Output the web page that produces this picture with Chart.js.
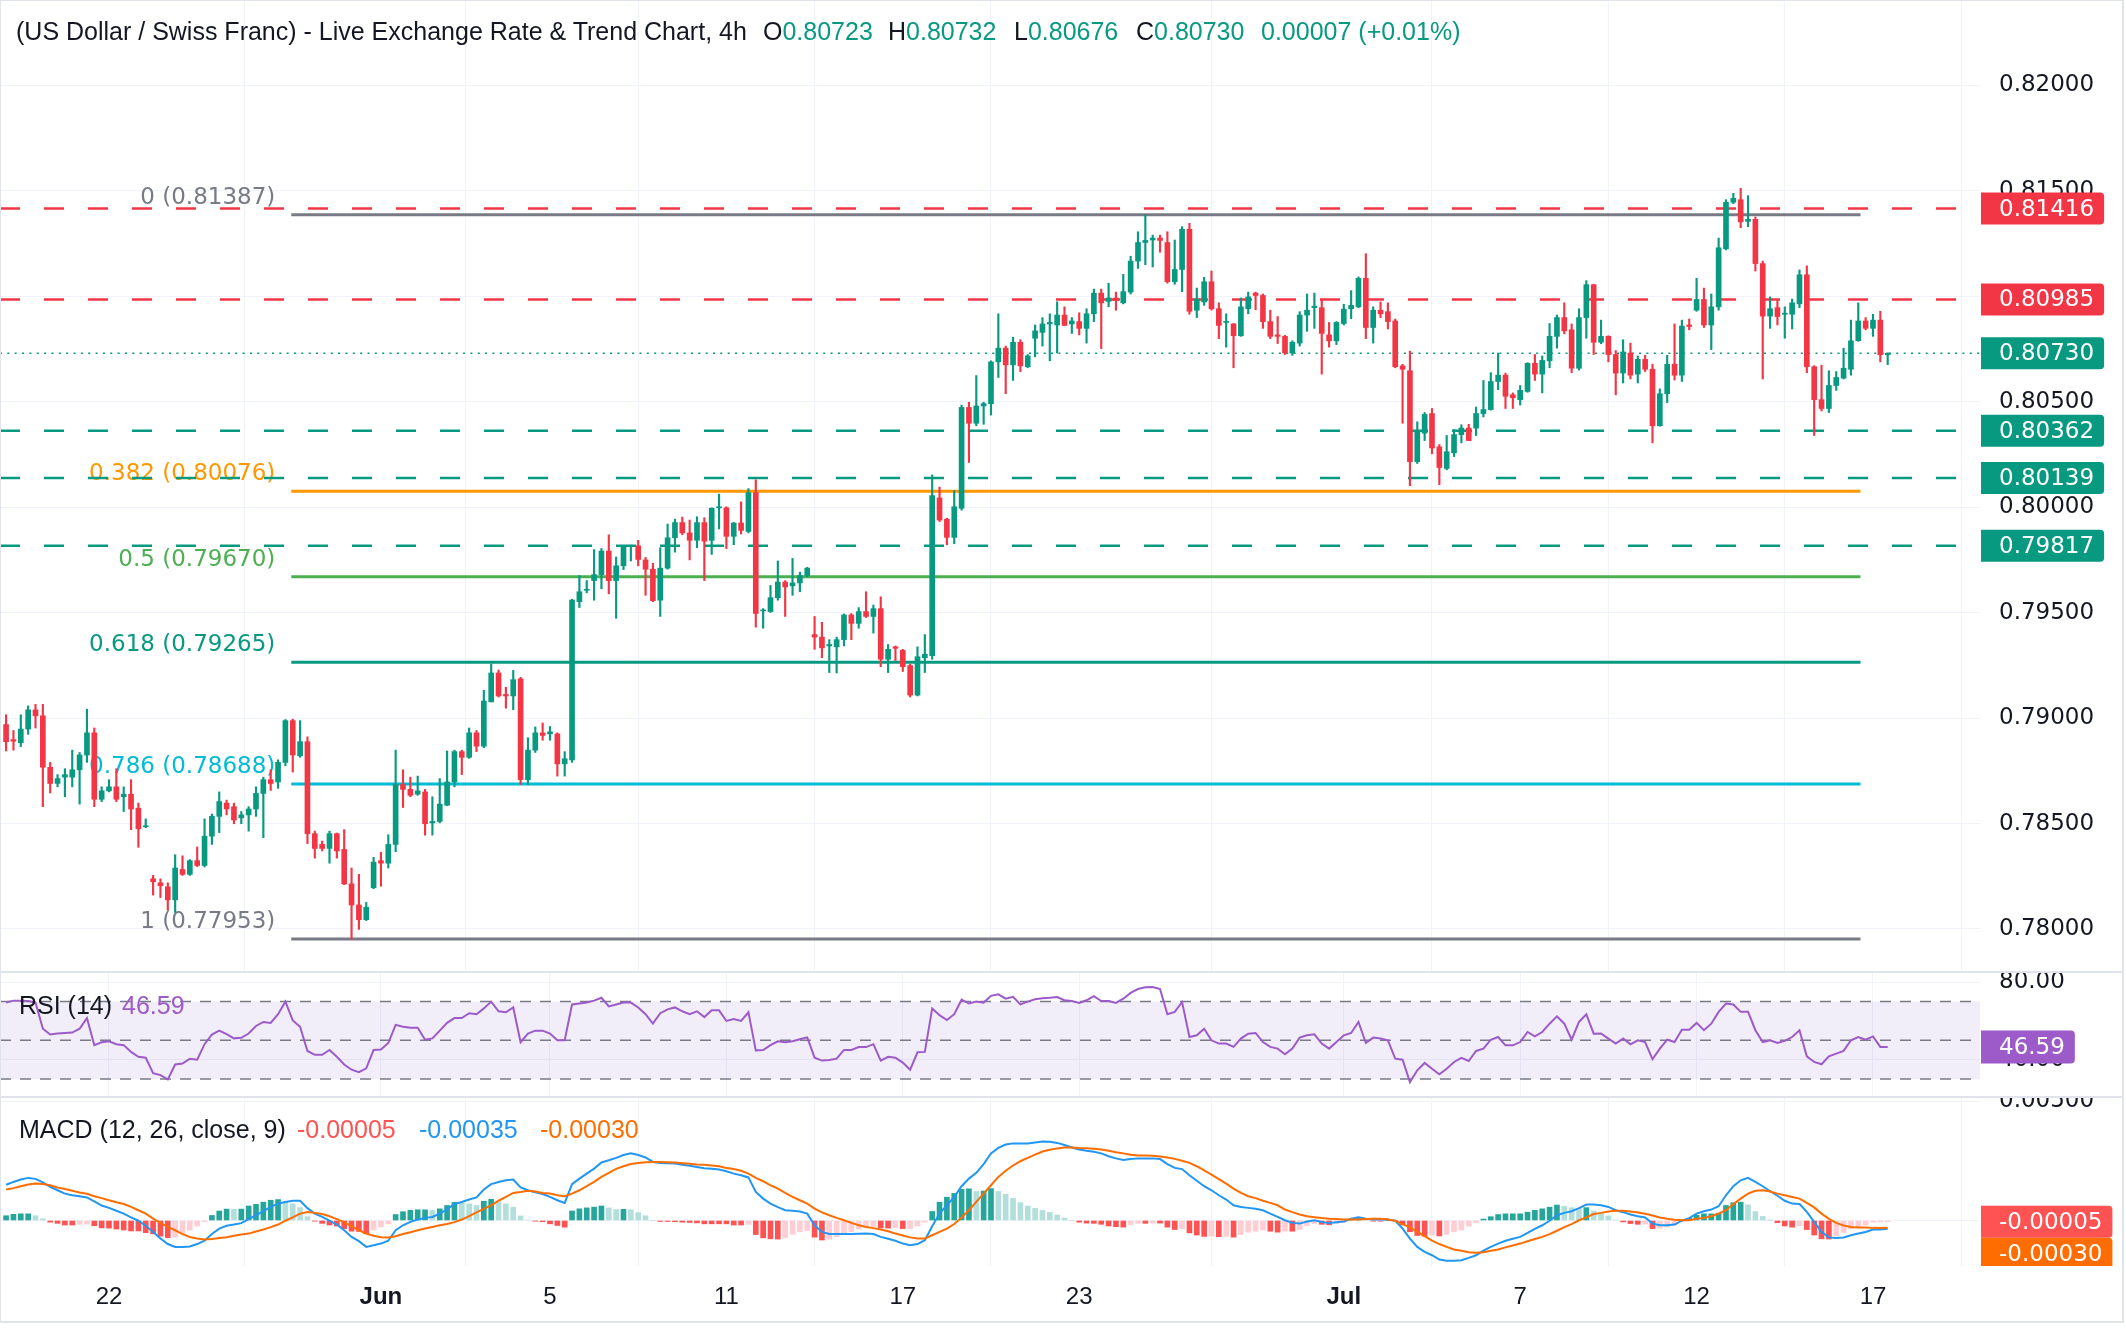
<!DOCTYPE html>
<html>
<head>
<meta charset="utf-8">
<title>USD/CHF 4h</title>
<script src="https://cdn.jsdelivr.net/npm/chart.js@4.4.1/dist/chart.umd.min.js"></script>
<style>
  html, body { margin:0; padding:0; background:#ffffff; }
  #wrap { position:relative; width:2126px; height:1344px; overflow:hidden; background:#fff; }
  #wrap canvas { position:absolute; left:0; }
  .lg { position:absolute; font-family:"Liberation Sans", Arial, sans-serif; font-size:25px; line-height:30px; color:#131722; white-space:pre; }
  .rule { position:absolute; background:#e0e3eb; }
</style>
</head>
<body>
<div id="wrap">
  <canvas id="cMain" width="2126" height="971" style="top:0px;width:2126px;height:971px"></canvas>
  <canvas id="cRsi" width="2126" height="123" style="top:973px;width:2126px;height:123px"></canvas>
  <canvas id="cMacd" width="2126" height="246" style="top:1098px;width:2126px;height:246px"></canvas>
  <div class="rule" style="left:0;top:971px;width:2124px;height:2px"></div>
  <div class="rule" style="left:0;top:1096px;width:2124px;height:2px"></div>
  <div class="rule" style="left:0;top:0;width:2124px;height:1px"></div>
  <div class="rule" style="left:0;top:0;width:1px;height:1323px"></div>
  <div class="rule" style="left:2122px;top:0;width:2px;height:1323px"></div>
  <div class="rule" style="left:0;top:1321px;width:2124px;height:2px"></div>
</div>
<script>
// ===================== DATA =====================
const chartTitle = "(US Dollar / Swiss Franc) - Live Exchange Rate & Trend Chart, 4h";

const xTickIndex  = [14, 51, 74, 98, 122, 146, 182, 206, 230, 254];
const xTickLabels = ["22", "Jun", "5", "11", "17", "23", "Jul", "7", "12", "17"];

const priceTicks = [0.78, 0.785, 0.79, 0.795, 0.80, 0.805, 0.81, 0.815, 0.82];
const rsiTicks   = [80, 40];
const macdTicks  = [0.005, 0];

const opens = [
0.78969,0.78898,0.78883,0.78948,0.79039,0.79011,0.78767,0.78690,0.78720,0.78720,
0.78755,0.78825,0.78930,0.78615,0.78655,0.78674,0.78627,0.78639,0.78573,0.78485,
0.78238,0.78219,0.78200,0.78138,0.78282,0.78259,0.78324,0.78301,0.78440,0.78534,
0.78597,0.78580,0.78527,0.78541,0.78569,0.78643,0.78708,0.78697,0.78790,0.78988,
0.78821,0.78888,0.78452,0.78401,0.78382,0.78452,0.78377,0.78214,0.78114,0.78044,
0.78196,0.78324,0.78312,0.78401,0.78685,0.78662,0.78639,0.78650,0.78503,0.78510,
0.78587,0.78697,0.78841,0.78814,0.78930,0.78867,0.79077,0.79214,0.79112,0.79105,
0.79186,0.78708,0.78848,0.78930,0.78925,0.78925,0.78783,0.78802,0.79552,0.79606,
0.79652,0.79680,0.79792,0.79652,0.79722,0.79813,0.79817,0.79750,0.79706,0.79559,
0.79711,0.79855,0.79927,0.79878,0.79843,0.79927,0.79843,0.79997,0.79997,0.79862,
0.79925,0.79885,0.80069,0.79508,0.79505,0.79571,0.79645,0.79627,0.79641,0.79676,
0.79396,0.79384,0.79342,0.79338,0.79372,0.79489,0.79449,0.79505,0.79482,0.79519,
0.79279,0.79338,0.79321,0.79249,0.79109,0.79286,0.79296,0.80044,0.79943,0.79857,
0.79995,0.80473,0.80398,0.80480,0.80491,0.80689,0.80754,0.80675,0.80782,0.80666,
0.80801,0.80829,0.80869,0.80864,0.80911,0.80869,0.80880,0.80848,0.80917,0.81015,
0.80976,0.80992,0.80969,0.81020,0.81167,0.81255,0.81267,0.81276,0.81255,0.81069,
0.81127,0.81318,0.80934,0.80973,0.81069,0.80941,0.80876,0.80869,0.80813,0.80941,
0.81015,0.81004,0.80880,0.80817,0.80810,0.80731,0.80778,0.80911,0.80946,0.80946,
0.80817,0.80789,0.80871,0.80941,0.80950,0.81085,0.80852,0.80934,0.80927,0.80883,
0.80670,0.80647,0.80216,0.80351,0.80444,0.80286,0.80184,0.80258,0.80344,0.80375,
0.80375,0.80444,0.80463,0.80596,0.80626,0.80533,0.80510,0.80549,0.80682,0.80631,
0.80694,0.80810,0.80899,0.80841,0.80659,0.80899,0.81055,0.80782,0.80810,0.80724,
0.80636,0.80731,0.80631,0.80701,0.80654,0.80386,0.80538,0.80678,0.80626,0.80864,
0.80934,0.80985,0.80864,0.80950,0.81225,0.81446,0.81458,0.81355,0.81365,0.81155,
0.80906,0.80946,0.80915,0.80915,0.80964,0.81102,0.80666,0.80510,0.80468,0.80577,
0.80612,0.80654,0.80789,0.80883,0.80848,0.80887,0.80723];

const highs = [
0.79016,0.78941,0.79016,0.79058,0.79065,0.79065,0.78790,0.78732,0.78760,0.78848,
0.78837,0.79042,0.78953,0.78674,0.78708,0.78760,0.78674,0.78708,0.78597,0.78522,
0.78254,0.78238,0.78219,0.78352,0.78347,0.78329,0.78389,0.78522,0.78545,0.78650,
0.78611,0.78597,0.78557,0.78580,0.78674,0.78720,0.78755,0.78802,0.78993,0.78995,
0.78988,0.78911,0.78464,0.78417,0.78464,0.78455,0.78471,0.78289,0.78259,0.78126,
0.78340,0.78364,0.78447,0.78848,0.78755,0.78720,0.78725,0.78662,0.78627,0.78713,
0.78844,0.78848,0.78848,0.78953,0.78941,0.79132,0.79256,0.79228,0.79146,0.79226,
0.79193,0.78907,0.78958,0.78977,0.78960,0.78930,0.78841,0.79563,0.79676,0.79652,
0.79799,0.79804,0.79869,0.79764,0.79815,0.79820,0.79843,0.79762,0.79734,0.79808,
0.79920,0.79943,0.79953,0.79939,0.79955,0.79950,0.79997,0.80062,0.80002,0.79927,
0.80025,0.80088,0.80130,0.79519,0.79629,0.79745,0.79652,0.79757,0.79692,0.79715,
0.79482,0.79454,0.79372,0.79384,0.79494,0.79496,0.79524,0.79599,0.79536,0.79575,
0.79349,0.79342,0.79326,0.79256,0.79338,0.79396,0.80153,0.80095,0.79948,0.80079,
0.80484,0.80498,0.80624,0.80498,0.80694,0.80917,0.80764,0.80806,0.80794,0.80724,
0.80864,0.80899,0.80917,0.80974,0.80950,0.80899,0.80922,0.80941,0.81034,0.81034,
0.81062,0.81020,0.81104,0.81190,0.81306,0.81387,0.81290,0.81290,0.81306,0.81267,
0.81330,0.81346,0.81039,0.81090,0.81120,0.80969,0.80917,0.80871,0.80992,0.81020,
0.81020,0.81011,0.80934,0.80904,0.80815,0.80789,0.80927,0.81011,0.81015,0.80987,
0.80876,0.80880,0.80962,0.81027,0.81092,0.81202,0.80950,0.80973,0.80969,0.80892,
0.80678,0.80740,0.80405,0.80449,0.80468,0.80297,0.80340,0.80368,0.80391,0.80393,
0.80475,0.80601,0.80638,0.80731,0.80636,0.80542,0.80577,0.80685,0.80724,0.80717,
0.80871,0.80911,0.80969,0.80869,0.80941,0.81074,0.81057,0.80887,0.80813,0.80743,
0.80794,0.80778,0.80717,0.80720,0.80678,0.80561,0.80720,0.80869,0.80887,0.80892,
0.81085,0.81039,0.81011,0.81276,0.81458,0.81488,0.81512,0.81477,0.81376,0.81167,
0.80997,0.80980,0.80950,0.80987,0.81125,0.81144,0.80671,0.80673,0.80647,0.80643,
0.80754,0.80887,0.80969,0.80899,0.80915,0.80929,0.80732];

const lows = [
0.78844,0.78848,0.78865,0.78923,0.78953,0.78580,0.78645,0.78674,0.78627,0.78674,
0.78592,0.78790,0.78580,0.78604,0.78650,0.78604,0.78557,0.78471,0.78387,0.78480,
0.78161,0.78149,0.78091,0.78079,0.78254,0.78254,0.78296,0.78294,0.78401,0.78457,
0.78541,0.78499,0.78499,0.78464,0.78534,0.78433,0.78657,0.78667,0.78774,0.78744,
0.78814,0.78405,0.78336,0.78370,0.78312,0.78336,0.78210,0.77953,0.77998,0.78040,
0.78191,0.78203,0.78289,0.78366,0.78576,0.78627,0.78634,0.78445,0.78445,0.78503,
0.78585,0.78674,0.78732,0.78809,0.78841,0.78860,0.79077,0.79100,0.79047,0.79040,
0.78685,0.78685,0.78837,0.78895,0.78895,0.78725,0.78725,0.78790,0.79524,0.79594,
0.79559,0.79613,0.79589,0.79473,0.79704,0.79745,0.79722,0.79582,0.79552,0.79482,
0.79706,0.79787,0.79869,0.79750,0.79808,0.79652,0.79776,0.79897,0.79804,0.79822,
0.79873,0.79878,0.79431,0.79426,0.79501,0.79559,0.79482,0.79582,0.79599,0.79669,
0.79326,0.79286,0.79216,0.79214,0.79342,0.79372,0.79426,0.79477,0.79403,0.79244,
0.79216,0.79273,0.79221,0.79100,0.79105,0.79216,0.79279,0.79932,0.79822,0.79827,
0.79986,0.80212,0.80386,0.80393,0.80437,0.80615,0.80538,0.80601,0.80643,0.80661,
0.80713,0.80764,0.80694,0.80731,0.80860,0.80824,0.80817,0.80778,0.80880,0.80752,
0.80950,0.80934,0.80964,0.81011,0.81132,0.81150,0.81139,0.81209,0.81062,0.81057,
0.81022,0.80915,0.80899,0.80957,0.80934,0.80799,0.80759,0.80661,0.80810,0.80917,
0.80936,0.80848,0.80799,0.80776,0.80724,0.80720,0.80764,0.80834,0.80848,0.80631,
0.80759,0.80771,0.80864,0.80894,0.80946,0.80799,0.80778,0.80899,0.80845,0.80661,
0.80398,0.80102,0.80207,0.80316,0.80253,0.80107,0.80177,0.80240,0.80305,0.80316,
0.80340,0.80428,0.80460,0.80557,0.80468,0.80468,0.80484,0.80545,0.80601,0.80542,
0.80661,0.80754,0.80822,0.80638,0.80650,0.80801,0.80724,0.80775,0.80689,0.80533,
0.80589,0.80608,0.80589,0.80643,0.80305,0.80384,0.80496,0.80603,0.80596,0.80841,
0.80929,0.80852,0.80747,0.80934,0.81220,0.81439,0.81325,0.81330,0.81120,0.80608,
0.80848,0.80864,0.80801,0.80845,0.80946,0.80638,0.80340,0.80456,0.80449,0.80554,
0.80608,0.80626,0.80787,0.80841,0.80810,0.80689,0.80676];

const closes = [
0.78888,0.78890,0.78948,0.79039,0.79011,0.78767,0.78690,0.78713,0.78732,0.78755,
0.78825,0.78930,0.78615,0.78655,0.78674,0.78615,0.78639,0.78569,0.78475,0.78489,
0.78224,0.78205,0.78138,0.78289,0.78259,0.78324,0.78301,0.78440,0.78534,0.78604,
0.78569,0.78517,0.78541,0.78569,0.78643,0.78708,0.78690,0.78790,0.78988,0.78825,
0.78888,0.78452,0.78382,0.78382,0.78452,0.78370,0.78214,0.78114,0.78044,0.78103,
0.78317,0.78312,0.78401,0.78685,0.78662,0.78634,0.78655,0.78499,0.78510,0.78592,
0.78697,0.78841,0.78814,0.78930,0.78867,0.79081,0.79214,0.79105,0.79105,0.79182,
0.78708,0.78848,0.78930,0.78918,0.78935,0.78783,0.78807,0.79559,0.79599,0.79610,
0.79680,0.79792,0.79652,0.79722,0.79815,0.79817,0.79752,0.79706,0.79557,0.79711,
0.79855,0.79927,0.79878,0.79843,0.79927,0.79839,0.79995,0.80002,0.79862,0.79925,
0.79890,0.80069,0.79496,0.79512,0.79571,0.79645,0.79622,0.79641,0.79676,0.79711,
0.79384,0.79333,0.79349,0.79372,0.79489,0.79449,0.79505,0.79482,0.79519,0.79279,
0.79326,0.79331,0.79244,0.79109,0.79291,0.79303,0.80055,0.79939,0.79857,0.80002,
0.80473,0.80398,0.80480,0.80491,0.80689,0.80754,0.80675,0.80782,0.80670,0.80717,
0.80836,0.80869,0.80876,0.80911,0.80862,0.80883,0.80848,0.80917,0.81015,0.80969,
0.80992,0.80980,0.81022,0.81167,0.81255,0.81265,0.81276,0.81265,0.81069,0.81127,
0.81318,0.80929,0.80987,0.81069,0.80941,0.80862,0.80880,0.80813,0.80950,0.80997,
0.81004,0.80880,0.80810,0.80810,0.80731,0.80782,0.80911,0.80934,0.80953,0.80824,
0.80789,0.80876,0.80939,0.80957,0.81085,0.80852,0.80934,0.80917,0.80880,0.80666,
0.80654,0.80216,0.80363,0.80440,0.80281,0.80188,0.80263,0.80344,0.80375,0.80316,
0.80444,0.80463,0.80596,0.80626,0.80526,0.80519,0.80554,0.80682,0.80631,0.80696,
0.80810,0.80899,0.80836,0.80659,0.80899,0.81055,0.80782,0.80810,0.80724,0.80636,
0.80736,0.80626,0.80701,0.80654,0.80386,0.80538,0.80678,0.80626,0.80859,0.80857,
0.80985,0.80864,0.80950,0.81230,0.81446,0.81465,0.81353,0.81365,0.81155,0.80906,
0.80941,0.80904,0.80920,0.80969,0.81102,0.80666,0.80510,0.80468,0.80577,0.80615,
0.80659,0.80789,0.80883,0.80848,0.80887,0.80723,0.80730];

const rsiValues = [
69.5,70.5,70.5,70.3,69.5,56,53,53.5,53.8,54,
56,61.5,47.5,49,49.5,48,47.5,44,41.5,41,
33,32,29.8,37.5,38,40.5,40,48,53,55,
53.2,51,51.3,53.5,57.4,59.5,59,63.5,70,60.3,
57,44.5,42.5,42.5,45,41.5,37.5,34.8,33.5,35.5,
45,45.2,48.6,58,57,56.5,56.5,50.3,51,55,
59,61.5,61.5,64,63.5,66.5,70,65,64.5,67,
49,53.5,55,55,53.5,50,50,68.5,69,69.5,
70.5,72,67.5,68.5,69.5,69.5,67,63.5,58.6,64,
66,67,65,63.5,65,62,65.5,65.5,60,61,
60,64.5,44.8,45,47.5,49.5,49,49.5,50.5,51.5,
41,39.5,39.8,40.5,45,45,46.5,46.5,48,39.5,
41.5,41,38.5,34.8,43.8,44,66.5,63,60.5,63.5,
71,69,70,69.5,73,73.8,71.5,72.5,68.6,70,
71.2,71.8,72,72.4,70.7,70.3,69.3,70.7,72.8,70.3,
70.3,69.3,71.5,74.5,76.5,77.4,77.6,76.5,63.5,64.7,
69.8,51.7,52.6,56,50,48.3,48.3,46.6,50.9,53.4,
53.8,49.1,46.6,45.7,42.8,45.7,51.4,52.6,53.1,48.3,
45.7,49.1,52.6,53.8,59.5,48.6,51.4,50.9,50,40.5,
40,28.4,34.5,38.3,35.3,32.4,35.3,38.8,40.9,39.3,
44.5,45.7,50.3,51.7,47.4,47.4,49.1,54.3,52,54.3,
58.6,62.4,58.6,50.3,59.5,63.4,53.4,53.5,50.9,48.3,
50.9,47.9,50,49.1,40.2,45.7,50.3,49.1,55.5,55.5,
59,55.2,58.6,64.7,69,68.5,64.7,64.7,55.2,49.1,
50,48.6,49.7,51.7,55.2,41.7,38.8,37.6,41.7,43.1,
44.5,50,51.7,50.3,52,46.6,46.59];
const rsiLevels = [70, 50, 30];

const macdLine = [
0.00150,0.00162,0.00172,0.00179,0.00175,0.00160,0.00141,0.00127,0.00113,0.00106,
0.00102,0.00097,0.00080,0.00063,0.00053,0.00041,0.00029,0.00013,-0.00001,-0.00022,
-0.00048,-0.00076,-0.00099,-0.00111,-0.00111,-0.00109,-0.00099,-0.00085,-0.00057,-0.00034,
-0.00022,-0.00017,-0.00011,0.00006,0.00022,0.00039,0.00057,0.00071,0.00078,0.00083,
0.00083,0.00052,0.00029,0.00015,-0.00001,-0.00017,-0.00041,-0.00069,-0.00087,-0.00111,
-0.00104,-0.00097,-0.00085,-0.00041,-0.00020,-0.00006,0.00004,0.00011,0.00015,0.00029,
0.00048,0.00069,0.00078,0.00088,0.00097,0.00130,0.00153,0.00162,0.00169,0.00172,
0.00139,0.00127,0.00119,0.00111,0.00099,0.00085,0.00074,0.00153,0.00176,0.00197,
0.00218,0.00244,0.00253,0.00263,0.00275,0.00282,0.00275,0.00265,0.00246,0.00242,
0.00241,0.00239,0.00234,0.00230,0.00225,0.00220,0.00217,0.00214,0.00207,0.00197,
0.00190,0.00181,0.00120,0.00092,0.00071,0.00056,0.00043,0.00041,0.00038,0.00029,
-0.00020,-0.00048,-0.00057,-0.00057,-0.00057,-0.00057,-0.00056,-0.00055,-0.00057,-0.00069,
-0.00077,-0.00085,-0.00097,-0.00104,-0.00099,-0.00083,-0.00024,0.00029,0.00064,0.00099,
0.00144,0.00176,0.00200,0.00237,0.00282,0.00305,0.00319,0.00324,0.00324,0.00324,
0.00328,0.00332,0.00331,0.00326,0.00317,0.00307,0.00298,0.00293,0.00289,0.00282,
0.00270,0.00261,0.00254,0.00258,0.00261,0.00261,0.00261,0.00258,0.00237,0.00221,
0.00216,0.00190,0.00167,0.00144,0.00127,0.00106,0.00088,0.00064,0.00057,0.00053,
0.00049,0.00043,0.00029,0.00015,0.00001,-0.00010,-0.00013,-0.00004,0.00001,-0.00006,
-0.00011,-0.00007,-0.00004,0.00007,0.00014,0.00007,0.00004,0.00004,0.00004,-0.00001,
-0.00034,-0.00076,-0.00111,-0.00132,-0.00146,-0.00164,-0.00169,-0.00169,-0.00167,-0.00157,
-0.00146,-0.00127,-0.00111,-0.00097,-0.00085,-0.00077,-0.00069,-0.00052,-0.00035,-0.00020,
-0.00001,0.00022,0.00032,0.00039,0.00052,0.00067,0.00067,0.00064,0.00057,0.00043,
0.00035,0.00025,0.00018,0.00013,-0.00013,-0.00020,-0.00020,-0.00017,-0.00001,0.00010,
0.00029,0.00039,0.00046,0.00060,0.00106,0.00144,0.00169,0.00179,0.00162,0.00144,
0.00123,0.00104,0.00083,0.00071,0.00069,0.00036,-0.00006,-0.00048,-0.00071,-0.00074,
-0.00071,-0.00062,-0.00055,-0.00048,-0.00038,-0.00038,-0.00035];

const signalLine = [
0.00130,0.00136,0.00144,0.00151,0.00155,0.00153,0.00148,0.00139,0.00132,0.00125,
0.00118,0.00112,0.00102,0.00094,0.00085,0.00077,0.00069,0.00057,0.00043,0.00029,
0.00008,-0.00010,-0.00027,-0.00041,-0.00057,-0.00069,-0.00076,-0.00080,-0.00078,-0.00074,
-0.00070,-0.00064,-0.00059,-0.00055,-0.00046,-0.00038,-0.00028,-0.00017,-0.00001,0.00013,
0.00029,0.00036,0.00032,0.00027,0.00018,0.00006,-0.00007,-0.00024,-0.00041,-0.00055,
-0.00064,-0.00070,-0.00071,-0.00066,-0.00057,-0.00049,-0.00041,-0.00034,-0.00027,-0.00020,
-0.00015,-0.00007,0.00004,0.00018,0.00034,0.00049,0.00064,0.00083,0.00099,0.00116,
0.00120,0.00125,0.00122,0.00116,0.00113,0.00106,0.00102,0.00113,0.00127,0.00144,
0.00162,0.00183,0.00200,0.00217,0.00228,0.00237,0.00242,0.00245,0.00246,0.00246,
0.00245,0.00244,0.00241,0.00238,0.00235,0.00234,0.00231,0.00228,0.00221,0.00216,
0.00209,0.00197,0.00179,0.00165,0.00148,0.00134,0.00116,0.00099,0.00085,0.00071,
0.00050,0.00034,0.00022,0.00011,0.00001,-0.00010,-0.00020,-0.00027,-0.00032,-0.00038,
-0.00045,-0.00055,-0.00063,-0.00071,-0.00076,-0.00076,-0.00062,-0.00048,-0.00034,-0.00015,
0.00013,0.00043,0.00078,0.00113,0.00148,0.00183,0.00209,0.00231,0.00249,0.00263,
0.00277,0.00290,0.00297,0.00303,0.00307,0.00307,0.00305,0.00304,0.00301,0.00298,
0.00293,0.00287,0.00282,0.00276,0.00273,0.00273,0.00272,0.00269,0.00265,0.00259,
0.00251,0.00242,0.00228,0.00211,0.00193,0.00174,0.00155,0.00134,0.00116,0.00102,
0.00094,0.00083,0.00074,0.00064,0.00046,0.00035,0.00025,0.00018,0.00014,0.00010,
0.00007,0.00006,0.00004,0.00004,0.00004,0.00006,0.00007,0.00007,0.00004,-0.00001,
-0.00015,-0.00029,-0.00048,-0.00066,-0.00085,-0.00099,-0.00111,-0.00122,-0.00127,-0.00133,
-0.00136,-0.00133,-0.00127,-0.00122,-0.00113,-0.00105,-0.00097,-0.00087,-0.00078,-0.00069,
-0.00057,-0.00043,-0.00028,-0.00015,0.00001,0.00013,0.00027,0.00032,0.00038,0.00041,
0.00041,0.00038,0.00034,0.00028,0.00021,0.00013,0.00007,0.00003,0.00001,0.00001,
0.00007,0.00011,0.00018,0.00029,0.00043,0.00069,0.00092,0.00113,0.00125,0.00127,
0.00122,0.00113,0.00106,0.00099,0.00092,0.00074,0.00055,0.00029,0.00007,-0.00010,
-0.00021,-0.00027,-0.00029,-0.00029,-0.00031,-0.00032,-0.00030];

const resistanceLevels = [0.81416, 0.80985];
const supportLevels    = [0.80362, 0.80139, 0.79817];
const fibRatios  = [0, 0.382, 0.5, 0.618, 0.786, 1];
const fibPrices  = [0.81387, 0.80076, 0.79670, 0.79265, 0.78688, 0.77953];
const fibAnchors = [38.8, 252.3];

// ===================== STYLE =====================
const UP = '#089981', DOWN = '#f23645', TXT = '#131722', GRID = '#f0f3fa';
const FIB_COLORS = ['#787b86', '#ff9800', '#4caf50', '#089981', '#00bcd4', '#787b86'];
const RSI_COLOR = '#9c5bc8';
const AXFONT = '"DejaVu Sans", "Liberation Sans", sans-serif';
const LGFONT = '"Liberation Sans", Arial, sans-serif';
const X_MIN = -0.83, X_MAX = 268.56;

// ===================== DERIVED =====================
const N = closes.length;
const idx = closes.map((_, i) => i);
const candleColors = idx.map(i => closes[i] >= opens[i] ? UP : DOWN);
const hist = idx.map(i => +(macdLine[i] - signalLine[i]).toFixed(5));
const histColors = hist.map((h, i) => {
  const p = i > 0 ? hist[i - 1] : h;
  if (h >= 0) return h >= p ? '#26a69a' : '#b2dfdb';
  return h <= p ? '#ff5252' : '#ffcdd2';
});
const hLine = (v, a = X_MIN, b = X_MAX) => [{ x: a, y: v }, { x: b, y: v }];
const lastClose = closes[N - 1];

Chart.defaults.animation = false;
Chart.defaults.font.family = LGFONT;

function xScale(showLabels) {
  return {
    type: 'linear', min: X_MIN, max: X_MAX, offset: false,
    afterBuildTicks: s => { s.ticks = xTickIndex.map(v => ({ value: v })); },
    afterFit: s => { s.height = showLabels ? 78 : 0; s.paddingLeft = 0; s.paddingRight = 0; },
    grid: { color: GRID, lineWidth: 1, drawTicks: false },
    border: { display: false },
    ticks: {
      display: showLabels, autoSkip: false, maxRotation: 0, minRotation: 0, padding: 17, color: TXT,
      font: ctx => ({ family: LGFONT, size: 24, weight: isNaN(+xTickLabels[ctx.index]) ? 'bold' : 'normal' }),
      callback: (v, i) => xTickLabels[i]
    }
  };
}
function yScale(min, max, ticks, digits) {
  return {
    type: 'linear', position: 'right', min, max,
    afterBuildTicks: s => { s.ticks = ticks.map(v => ({ value: v })); },
    afterFit: s => { s.width = 146; s.paddingTop = 0; s.paddingBottom = 0; },
    grid: { color: GRID, lineWidth: 1, drawTicks: false },
    border: { display: false },
    ticks: { padding: 19, color: TXT, font: { family: AXFONT, size: 23 }, callback: v => (+v).toFixed(digits) }
  };
}
function drawBox(ctx, yc, color, text, h) {
  ctx.font = '23px ' + AXFONT;
  const w = ctx.measureText(text).width + 28;
  const x0 = 1981;
  ctx.fillStyle = color;
  ctx.beginPath();
  if (ctx.roundRect) ctx.roundRect(x0, yc - h / 2, w, h, [0, 4, 4, 0]); else ctx.rect(x0, yc - h / 2, w, h);
  ctx.fill();
  ctx.fillStyle = '#ffffff';
  ctx.textAlign = 'left'; ctx.textBaseline = 'middle';
  ctx.fillText(text, x0 + 18, yc + 1);
  return yc + h / 2;
}
const baseOpts = {
  responsive: false, maintainAspectRatio: false, animation: false,
  layout: { padding: 0 },
  plugins: { legend: { display: false }, tooltip: { enabled: false } },
  events: []
};

// ===================== MAIN PRICE CHART =====================
const mainOverlay = {
  id: 'mainOverlay',
  beforeDatasetsDraw(chart) {
    const { ctx, scales: { x, y } } = chart;
    ctx.save();
    ctx.font = '23px ' + AXFONT;
    ctx.textAlign = 'right'; ctx.textBaseline = 'alphabetic';
    const xr = x.getPixelForValue(fibAnchors[0]) - 16;
    fibPrices.forEach((p, k) => {
      ctx.fillStyle = FIB_COLORS[k];
      ctx.fillText(String(fibRatios[k]) + ' (' + p.toFixed(5) + ')', xr, y.getPixelForValue(p) - 11);
    });
    ctx.restore();
  },
  afterDraw(chart) {
    const { ctx, scales: { y } } = chart;
    ctx.save();
    resistanceLevels.forEach(v => drawBox(ctx, y.getPixelForValue(v), DOWN, v.toFixed(5), 32));
    drawBox(ctx, y.getPixelForValue(lastClose), UP, lastClose.toFixed(5), 32);
    supportLevels.forEach(v => drawBox(ctx, y.getPixelForValue(v), UP, v.toFixed(5), 32));
    ctx.restore();
  }
};

const mainDatasets = [
  { type: 'bar', label: 'wick', data: idx.map(i => ({ x: i, y: [lows[i], highs[i]] })),
    backgroundColor: candleColors, barThickness: 1.5, grouped: false, borderWidth: 0, order: 1 },
  { type: 'bar', label: 'body', data: idx.map(i => ({ x: i, y: [opens[i], closes[i]] })),
    backgroundColor: candleColors, barThickness: 5, minBarLength: 1, grouped: false, borderWidth: 0, order: 0 }
];
resistanceLevels.forEach(v => mainDatasets.push({ type: 'line', data: hLine(v), borderColor: DOWN, borderWidth: 2.5,
  borderDash: [20, 24], pointRadius: 0, order: 5 }));
supportLevels.forEach(v => mainDatasets.push({ type: 'line', data: hLine(v), borderColor: UP, borderWidth: 2.5,
  borderDash: [20, 24], pointRadius: 0, order: 5 }));
mainDatasets.push({ type: 'line', data: hLine(lastClose), borderColor: UP, borderWidth: 1.5,
  borderDash: [2, 5.35], pointRadius: 0, order: 5 });
fibPrices.forEach((p, k) => mainDatasets.push({ type: 'line', data: hLine(p, fibAnchors[0], fibAnchors[1]),
  borderColor: FIB_COLORS[k], borderWidth: 3, pointRadius: 0, order: 4 }));

new Chart(document.getElementById('cMain'), {
  type: 'bar',
  data: { datasets: mainDatasets },
  options: Object.assign({}, baseOpts, {
    scales: { x: xScale(false), y: yScale(0.778008, 0.824049, priceTicks, 5) }
  }),
  plugins: [mainOverlay]
});

// ===================== RSI =====================
const rsiOverlay = {
  id: 'rsiOverlay',
  afterDraw(chart) {
    const { ctx, scales: { y } } = chart;
    ctx.save();
    drawBox(ctx, y.getPixelForValue(rsiValues[N - 1]), RSI_COLOR, rsiValues[N - 1].toFixed(2), 33);
    ctx.restore();
  }
};
new Chart(document.getElementById('cRsi'), {
  type: 'line',
  data: { datasets: [
    { data: idx.map(i => ({ x: i, y: rsiValues[i] })), borderColor: RSI_COLOR, borderWidth: 2, pointRadius: 0, tension: 0, order: 0 },
    ...rsiLevels.map(v => ({ data: hLine(v), borderColor: '#787b86', borderWidth: 1.5, borderDash: [11, 9], pointRadius: 0, order: 1 })),
    { data: hLine(rsiLevels[0]), fill: { value: rsiLevels[2] }, backgroundColor: 'rgba(126,87,194,0.1)', borderWidth: 0, pointRadius: 0, order: 3 }
  ] },
  options: Object.assign({}, baseOpts, {
    scales: { x: xScale(false), y: yScale(21.2, 84.8, rsiTicks, 2) }
  }),
  plugins: [rsiOverlay]
});

// ===================== MACD =====================
const macdOverlay = {
  id: 'macdOverlay',
  afterDraw(chart) {
    const { ctx, chartArea, scales: { y } } = chart;
    ctx.save();
    ctx.beginPath(); ctx.rect(0, chartArea.top, chart.width, chartArea.bottom - chartArea.top); ctx.clip();
    const h = hist[N - 1], s = signalLine[N - 1];
    const bottom = drawBox(ctx, y.getPixelForValue(h), '#ff5252', h.toFixed(5), 32);
    let ys = y.getPixelForValue(s);
    if (ys - 16 < bottom) ys = bottom + 16;
    drawBox(ctx, ys, '#ff6d00', s.toFixed(5), 32);
    ctx.restore();
  }
};
new Chart(document.getElementById('cMacd'), {
  type: 'bar',
  data: { datasets: [
    { type: 'line', data: idx.map(i => ({ x: i, y: signalLine[i] })), borderColor: '#ff6d00', borderWidth: 2, pointRadius: 0, order: 0 },
    { type: 'line', data: idx.map(i => ({ x: i, y: macdLine[i] })), borderColor: '#2196f3', borderWidth: 2, pointRadius: 0, order: 1 },
    { type: 'bar', data: idx.map(i => ({ x: i, y: hist[i] })), backgroundColor: histColors, barThickness: 5, grouped: false, borderWidth: 0, order: 2 }
  ] },
  options: Object.assign({}, baseOpts, {
    scales: { x: xScale(true), y: yScale(-0.001912, 0.005147, macdTicks, 5) }
  }),
  plugins: [macdOverlay]
});

// ===================== LEGENDS (text) =====================
const wrap = document.getElementById('wrap');
function addText(left, cy, parts) {
  const d = document.createElement('div');
  d.className = 'lg';
  d.style.left = left + 'px';
  d.style.top = (cy - 15) + 'px';
  parts.forEach(([t, c]) => { const s = document.createElement('span'); s.textContent = t; s.style.color = c; d.appendChild(s); });
  wrap.appendChild(d);
}
const chg = closes[N - 1] - closes[N - 2];
const pct = chg / closes[N - 2] * 100;
addText(16, 31, [[chartTitle, TXT]]);
addText(763, 31, [['O', TXT], [opens[N - 1].toFixed(5), UP]]);
addText(888, 31, [['H', TXT], [highs[N - 1].toFixed(5), UP]]);
addText(1014, 31, [['L', TXT], [lows[N - 1].toFixed(5), UP]]);
addText(1136, 31, [['C', TXT], [closes[N - 1].toFixed(5), UP]]);
addText(1261, 31, [[(chg >= 0 ? '' : '-') + Math.abs(chg).toFixed(5) + ' (' + (chg >= 0 ? '+' : '-') + Math.abs(pct).toFixed(2) + '%)', UP]]);
addText(19, 1005, [['RSI (14)', TXT]]);
addText(122, 1005, [[rsiValues[N - 1].toFixed(2), RSI_COLOR]]);
addText(19, 1129, [['MACD (12, 26, close, 9)', TXT]]);
addText(297, 1129, [[hist[N - 1].toFixed(5), '#ff5252']]);
addText(419, 1129, [[macdLine[N - 1].toFixed(5), '#2196f3']]);
addText(540, 1129, [[signalLine[N - 1].toFixed(5), '#ff6d00']]);
</script>
</body>
</html>
